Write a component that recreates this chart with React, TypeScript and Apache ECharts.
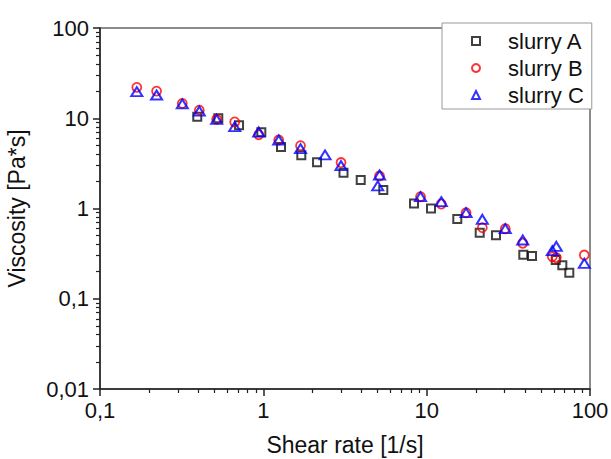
import React, { useEffect, useRef } from "react";
import * as echarts from "echarts";

const slurryA: [number, number][] = [
  [0.394, 10.4], [0.53, 9.99], [0.71, 8.36], [0.972, 6.99], [1.283, 4.8],
  [1.708, 3.89], [2.132, 3.25], [3.096, 2.49], [3.947, 2.07], [5.426, 1.6],
  [8.366, 1.136], [10.63, 1.0], [15.4, 0.765], [21.12, 0.539], [26.57, 0.505],
  [39.06, 0.3075], [44.16, 0.298], [61.7, 0.269], [67.7, 0.235], [74.7, 0.194],
];
const slurryB: [number, number][] = [
  [0.168, 22.0], [0.222, 20.0], [0.319, 14.6], [0.4055, 12.3], [0.518, 9.74],
  [0.668, 9.09], [0.937, 6.57], [1.242, 5.74], [1.689, 4.96], [2.99, 3.23],
  [5.145, 2.29], [9.17, 1.351], [12.29, 1.122], [17.42, 0.898], [21.91, 0.613],
  [30.29, 0.597], [38.73, 0.412], [58.79, 0.292], [62.2, 0.285], [92.3, 0.305],
];
const slurryC: [number, number][] = [
  [0.168, 19.7], [0.222, 18.1], [0.319, 14.4], [0.4055, 12.0], [0.518, 9.74],
  [0.668, 8.06], [0.937, 7.04], [1.242, 5.74], [1.689, 4.6], [2.386, 3.92],
  [2.99, 2.99], [5.145, 2.35], [5.015, 1.78], [9.17, 1.351], [12.29, 1.19],
  [17.42, 0.898], [21.91, 0.759], [30.29, 0.597], [38.73, 0.448], [58.79, 0.341],
  [62.2, 0.381], [92.3, 0.247],
];

const xMajor = [0.1, 1, 10, 100];
const xMinor = [0.2, 0.3, 0.4, 0.5, 0.6, 0.7, 0.8, 0.9, 2, 3, 4, 5, 6, 7, 8, 9, 20, 30, 40, 50, 60, 70, 80, 90];
const yMajor = [0.01, 0.1, 1, 10, 100];
const yMinor = [
  0.02, 0.03, 0.04, 0.05, 0.06, 0.07, 0.08, 0.09,
  0.2, 0.3, 0.4, 0.5, 0.6, 0.7, 0.8, 0.9,
  2, 3, 4, 5, 6, 7, 8, 9, 20, 30, 40, 50, 60, 70, 80, 90,
];

const FONT = "Liberation Sans, Arial, sans-serif";
const fmt = (v: number) => String(Number(v.toPrecision(6))).replace(".", ",");

export default function App() {
  const ref = useRef<HTMLDivElement>(null);
  useEffect(() => {
    if (!ref.current) return;
    const chart = echarts.init(ref.current, undefined, { renderer: "svg" });
    const axisLine = { show: true, lineStyle: { color: "#222", width: 1.5 } };
    chart.setOption({
      animation: false,
      backgroundColor: "#fff",
      textStyle: { fontFamily: FONT },
      grid: {
        left: 100, right: 21, top: 28, bottom: 70,
        show: true, borderColor: "#666", borderWidth: 1.5,
        outerBoundsMode: "none", containLabel: false,
      },
      legend: {
        orient: "vertical",
        left: 442, top: 23,
        padding: [7, 8, 3, 29],
        itemGap: 5,
        itemWidth: 8, itemHeight: 8,
        backgroundColor: "#fff",
        borderColor: "#999", borderWidth: 1,
        textStyle: { fontSize: 22, color: "#111", fontFamily: FONT, padding: [0, 0, 0, 23] },
        data: ["slurry A", "slurry B", "slurry C"],
      },
      xAxis: [
        {
          type: "log", logBase: 10, min: 0.1, max: 100,
          name: "Shear rate [1/s]", nameLocation: "middle", nameGap: 44,
          nameTextStyle: { fontSize: 23, color: "#111", fontFamily: FONT },
          axisLine,
          axisTick: { show: true, inside: false, length: 7, customValues: xMajor, lineStyle: { color: "#222", width: 1.5 } },
          axisLabel: { show: true, customValues: xMajor, margin: 10, fontSize: 22, color: "#111", fontFamily: FONT, formatter: fmt },
          splitLine: { show: false },
          minorTick: { show: false },
        },
        {
          type: "log", logBase: 10, min: 0.1, max: 100, position: "bottom",
          axisLine: { show: false },
          axisTick: { show: true, inside: false, length: 4, customValues: xMinor, lineStyle: { color: "#222", width: 1.2 } },
          axisLabel: { show: false },
          splitLine: { show: false },
        },
      ],
      yAxis: [
        {
          type: "log", logBase: 10, min: 0.01, max: 100,
          name: "Viscosity [Pa*s]", nameLocation: "middle", nameGap: 72,
          nameTextStyle: { fontSize: 23, color: "#111", fontFamily: FONT },
          axisLine,
          axisTick: { show: true, inside: false, length: 7, customValues: yMajor, lineStyle: { color: "#222", width: 1.5 } },
          axisLabel: { show: true, customValues: yMajor, margin: 11, fontSize: 22, color: "#111", fontFamily: FONT, formatter: fmt },
          splitLine: { show: false },
        },
        {
          type: "log", logBase: 10, min: 0.01, max: 100, position: "left",
          axisLine: { show: false },
          axisTick: { show: true, inside: false, length: 4, customValues: yMinor, lineStyle: { color: "#222", width: 1.2 } },
          axisLabel: { show: false },
          splitLine: { show: false },
        },
      ],
      series: [
        {
          name: "slurry A", type: "scatter", data: slurryA, symbol: "rect", symbolSize: 8,
          itemStyle: { color: "rgba(255,255,255,0)", borderColor: "#111", borderWidth: 2 },
        },
        {
          name: "slurry B", type: "scatter", data: slurryB, symbol: "circle", symbolSize: 9,
          itemStyle: { color: "rgba(255,255,255,0)", borderColor: "#ff0000", borderWidth: 1.8 },
        },
        {
          name: "slurry C", type: "scatter", data: slurryC, symbol: "triangle", symbolSize: [11, 9],
          itemStyle: { color: "rgba(255,255,255,0)", borderColor: "#0000ff", borderWidth: 2 },
        },
      ],
    });
    return () => chart.dispose();
  }, []);
  return (
    <div
      ref={ref}
      style={{ position: "fixed", left: 0, top: 0, width: 611, height: 459 }}
    />
  );
}
